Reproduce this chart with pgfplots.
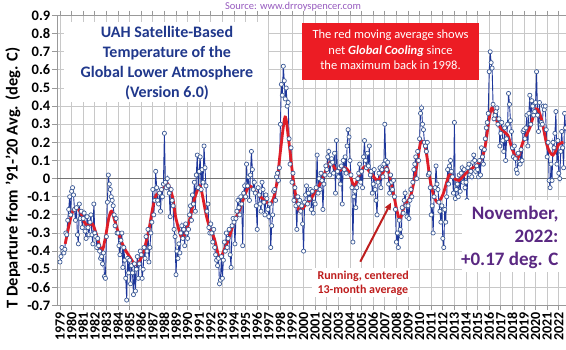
\documentclass[border=0pt]{standalone}
\usepackage{fontspec}
\setmainfont{Carlito}
\usepackage{pgfplots}
\pgfplotsset{compat=1.18}
\usepackage{pgfplotstable}
\usetikzlibrary{arrows.meta}
\definecolor{navy}{RGB}{32,56,140}
\definecolor{dblue}{RGB}{30,55,155}
\definecolor{mkblue}{RGB}{60,90,150}
\definecolor{redline}{RGB}{222,30,40}
\definecolor{boxred}{RGB}{236,28,36}
\definecolor{purp}{RGB}{90,40,130}
\definecolor{srcpurp}{RGB}{150,90,190}
\definecolor{dred}{RGB}{190,30,30}
\definecolor{gridgray}{RGB}{200,200,200}

\pgfplotstableread[row sep=\\]{
v\\
-0.46\\ -0.43\\ -0.38\\ -0.40\\ -0.41\\ -0.39\\ -0.30\\ -0.31\\ -0.23\\ -0.17\\ -0.10\\ -0.20\\
-0.07\\ -0.05\\ -0.09\\ -0.17\\ -0.23\\ -0.16\\ -0.31\\ -0.36\\ -0.14\\ -0.22\\ -0.18\\ -0.27\\
-0.22\\ -0.19\\ -0.29\\ -0.33\\ -0.21\\ -0.27\\ -0.31\\ -0.24\\ -0.20\\ -0.31\\ -0.36\\ -0.14\\
-0.30\\ -0.32\\ -0.38\\ -0.33\\ -0.37\\ -0.40\\ -0.44\\ -0.43\\ -0.47\\ -0.41\\ -0.54\\ -0.55\\
-0.32\\ -0.13\\ 0.02\\ -0.03\\ -0.06\\ -0.10\\ -0.12\\ -0.15\\ -0.20\\ -0.26\\ -0.22\\ -0.30\\
-0.30\\ -0.37\\ -0.42\\ -0.34\\ -0.30\\ -0.49\\ -0.38\\ -0.45\\ -0.55\\ -0.67\\ -0.44\\ -0.52\\
-0.45\\ -0.58\\ -0.48\\ -0.52\\ -0.64\\ -0.47\\ -0.62\\ -0.50\\ -0.43\\ -0.55\\ -0.47\\ -0.40\\
-0.42\\ -0.55\\ -0.50\\ -0.38\\ -0.44\\ -0.32\\ -0.40\\ -0.28\\ -0.46\\ -0.38\\ -0.30\\ -0.24\\
-0.06\\ -0.20\\ -0.12\\ 0.04\\ -0.05\\ -0.12\\ -0.14\\ -0.08\\ -0.18\\ -0.06\\ -0.10\\ -0.03\\
0.25\\ -0.02\\ -0.05\\ 0.00\\ -0.04\\ -0.08\\ -0.21\\ -0.06\\ -0.12\\ -0.15\\ -0.28\\ -0.32\\
-0.53\\ -0.40\\ -0.44\\ -0.36\\ -0.41\\ -0.30\\ -0.26\\ -0.33\\ -0.28\\ -0.37\\ -0.25\\ -0.30\\
-0.33\\ -0.28\\ -0.20\\ -0.15\\ -0.23\\ -0.09\\ -0.14\\ -0.02\\ -0.18\\ 0.02\\ 0.13\\ -0.05\\
0.04\\ 0.12\\ -0.06\\ 0.05\\ -0.02\\ 0.18\\ 0.06\\ -0.04\\ -0.18\\ -0.14\\ -0.27\\ -0.30\\
-0.25\\ -0.30\\ -0.35\\ -0.28\\ -0.38\\ -0.42\\ -0.45\\ -0.48\\ -0.44\\ -0.58\\ -0.56\\ -0.43\\
-0.55\\ -0.45\\ -0.35\\ -0.40\\ -0.30\\ -0.38\\ -0.33\\ -0.28\\ -0.42\\ -0.49\\ -0.26\\ -0.22\\
-0.24\\ -0.36\\ -0.22\\ -0.18\\ -0.12\\ -0.16\\ -0.20\\ -0.10\\ -0.14\\ -0.37\\ -0.08\\ -0.04\\
-0.10\\ 0.08\\ -0.04\\ 0.01\\ -0.12\\ 0.02\\ 0.15\\ 0.05\\ -0.06\\ -0.02\\ -0.08\\ -0.15\\
-0.28\\ -0.05\\ -0.09\\ -0.14\\ -0.18\\ -0.02\\ -0.06\\ -0.13\\ -0.20\\ -0.09\\ -0.11\\ -0.17\\
-0.21\\ -0.14\\ -0.38\\ -0.26\\ -0.20\\ -0.07\\ -0.06\\ -0.12\\ 0.01\\ 0.03\\ -0.01\\ 0.06\\
0.30\\ 0.52\\ 0.46\\ 0.62\\ 0.54\\ 0.44\\ 0.50\\ 0.40\\ 0.42\\ 0.22\\ 0.08\\ 0.17\\
-0.02\\ 0.03\\ -0.12\\ -0.05\\ -0.15\\ -0.28\\ -0.10\\ -0.14\\ -0.12\\ -0.18\\ -0.15\\ -0.25\\
-0.40\\ -0.13\\ -0.09\\ -0.04\\ -0.14\\ -0.08\\ -0.11\\ -0.06\\ -0.17\\ -0.07\\ -0.19\\ -0.13\\
-0.14\\ -0.05\\ 0.13\\ -0.08\\ 0.00\\ -0.06\\ 0.03\\ -0.01\\ -0.17\\ -0.03\\ 0.02\\ 0.07\\
0.05\\ 0.12\\ 0.15\\ 0.02\\ 0.08\\ 0.11\\ 0.09\\ 0.03\\ 0.14\\ -0.08\\ 0.21\\ 0.04\\
0.01\\ 0.06\\ -0.03\\ 0.07\\ -0.14\\ 0.10\\ 0.05\\ 0.12\\ 0.03\\ 0.18\\ 0.27\\ 0.23\\
0.10\\ 0.02\\ -0.05\\ -0.35\\ -0.10\\ -0.07\\ -0.16\\ -0.05\\ 0.00\\ 0.03\\ 0.08\\ -0.02\\
0.04\\ -0.05\\ 0.12\\ 0.21\\ 0.10\\ 0.06\\ 0.14\\ 0.07\\ 0.18\\ 0.02\\ 0.04\\ -0.08\\
-0.03\\ 0.05\\ -0.06\\ -0.12\\ -0.20\\ -0.02\\ 0.03\\ 0.06\\ -0.05\\ 0.05\\ 0.01\\ 0.08\\
0.30\\ 0.10\\ 0.05\\ 0.09\\ -0.03\\ -0.08\\ 0.02\\ -0.02\\ -0.06\\ -0.01\\ -0.10\\ -0.17\\
-0.35\\ -0.30\\ -0.38\\ -0.23\\ -0.28\\ -0.32\\ -0.16\\ -0.19\\ -0.12\\ -0.08\\ -0.15\\ -0.21\\
-0.15\\ -0.22\\ -0.12\\ -0.06\\ -0.10\\ -0.02\\ 0.05\\ 0.08\\ 0.12\\ 0.00\\ 0.15\\ 0.10\\
0.22\\ 0.36\\ 0.39\\ 0.30\\ 0.27\\ 0.20\\ 0.18\\ 0.15\\ 0.20\\ 0.02\\ 0.03\\ -0.05\\
-0.20\\ -0.15\\ -0.30\\ -0.10\\ -0.05\\ 0.07\\ -0.03\\ -0.06\\ -0.13\\ -0.18\\ -0.24\\ -0.15\\
-0.33\\ -0.38\\ -0.17\\ -0.24\\ -0.10\\ 0.05\\ -0.03\\ 0.07\\ 0.10\\ 0.04\\ 0.01\\ -0.08\\
0.31\\ -0.11\\ -0.06\\ -0.03\\ -0.10\\ 0.02\\ -0.07\\ 0.03\\ 0.06\\ -0.02\\ 0.05\\ -0.05\\
-0.02\\ -0.12\\ 0.06\\ 0.08\\ 0.02\\ 0.04\\ 0.01\\ 0.09\\ 0.13\\ 0.10\\ 0.04\\ 0.07\\
0.05\\ 0.01\\ 0.10\\ 0.02\\ 0.17\\ 0.12\\ 0.08\\ 0.16\\ 0.22\\ 0.28\\ 0.31\\ 0.36\\
0.59\\ 0.70\\ 0.64\\ 0.61\\ 0.41\\ 0.33\\ 0.35\\ 0.37\\ 0.39\\ 0.30\\ 0.33\\ 0.18\\
0.25\\ 0.31\\ 0.21\\ 0.15\\ 0.28\\ 0.10\\ 0.22\\ 0.30\\ 0.47\\ 0.41\\ 0.32\\ 0.26\\
0.17\\ 0.12\\ 0.18\\ 0.11\\ 0.05\\ 0.03\\ 0.14\\ 0.09\\ 0.08\\ 0.16\\ 0.10\\ 0.26\\
0.27\\ 0.22\\ 0.28\\ 0.35\\ 0.18\\ 0.36\\ 0.46\\ 0.30\\ 0.43\\ 0.40\\ 0.35\\ 0.37\\
0.42\\ 0.59\\ 0.35\\ 0.26\\ 0.42\\ 0.30\\ 0.31\\ 0.30\\ 0.40\\ 0.38\\ 0.40\\ 0.27\\
0.12\\ 0.20\\ -0.01\\ -0.05\\ 0.08\\ -0.01\\ 0.20\\ 0.17\\ 0.25\\ 0.37\\ 0.08\\ 0.21\\
0.03\\ 0.00\\ 0.15\\ 0.26\\ 0.17\\ 0.06\\ 0.36\\ 0.28\\ 0.24\\ 0.32\\ 0.17\\
}\uah

\pgfplotstableread[row sep=\\]{
t v\\
1979.45 -0.36\\ 1979.8 -0.25\\ 1980.1 -0.18\\ 1980.4 -0.16\\ 1980.8 -0.19\\
1981.1 -0.24\\ 1981.4 -0.26\\ 1981.8 -0.25\\ 1982.2 -0.32\\ 1982.6 -0.40\\
1982.9 -0.33\\ 1983.2 -0.22\\ 1983.45 -0.18\\ 1983.8 -0.25\\ 1984.2 -0.33\\
1984.6 -0.39\\ 1985.0 -0.43\\ 1985.5 -0.475\\ 1985.9 -0.45\\ 1986.3 -0.38\\
1986.7 -0.27\\ 1987.0 -0.16\\ 1987.3 -0.09\\ 1987.7 -0.07\\ 1988.0 -0.045\\
1988.3 -0.03\\ 1988.7 -0.10\\ 1989.0 -0.22\\ 1989.5 -0.33\\ 1989.8 -0.30\\
1990.2 -0.22\\ 1990.6 -0.11\\ 1991.05 -0.04\\ 1991.3 -0.10\\ 1991.6 -0.20\\
1991.9 -0.27\\ 1992.3 -0.33\\ 1992.75 -0.44\\ 1993.1 -0.40\\ 1993.5 -0.34\\
1994.0 -0.24\\ 1994.5 -0.17\\ 1995.0 -0.08\\ 1995.35 -0.04\\ 1995.8 -0.07\\
1996.3 -0.10\\ 1996.8 -0.13\\ 1997.1 -0.14\\ 1997.4 -0.11\\ 1997.7 -0.02\\
1998.0 0.15\\ 1998.4 0.34\\ 1998.7 0.22\\ 1999.1 0.00\\ 1999.4 -0.12\\
1999.65 -0.18\\ 2000.1 -0.15\\ 2000.65 -0.11\\ 2001.0 -0.07\\ 2001.5 -0.02\\
2002.0 0.06\\ 2002.35 0.09\\ 2002.9 0.04\\ 2003.5 0.06\\ 2003.9 0.04\\
2004.35 -0.04\\ 2004.8 0.02\\ 2005.25 0.065\\ 2005.8 0.03\\ 2006.4 -0.01\\
2006.9 0.04\\ 2007.25 0.055\\ 2007.7 -0.07\\ 2008.25 -0.22\\ 2008.7 -0.15\\
2009.25 -0.09\\ 2009.7 0.05\\ 2010.1 0.20\\ 2010.5 0.17\\ 2011.0 -0.04\\
2011.5 -0.13\\ 2012.0 -0.09\\ 2012.55 0.02\\ 2013.0 0.00\\ 2013.4 -0.01\\
2014.0 0.03\\ 2014.6 0.06\\ 2015.15 0.09\\ 2015.6 0.16\\ 2016.0 0.33\\
2016.25 0.39\\ 2016.7 0.31\\ 2017.15 0.265\\ 2017.6 0.24\\ 2018.0 0.16\\
2018.45 0.11\\ 2018.9 0.20\\ 2019.5 0.28\\ 2020.05 0.385\\ 2020.5 0.33\\
2021.0 0.18\\ 2021.5 0.13\\ 2022.0 0.19\\ 2022.4 0.20\\
}\runmean

\begin{document}
\begin{tikzpicture}
\useasboundingbox (-57pt,-44.5pt) rectangle (509pt,305.5pt);
\begin{axis}[
  at={(0,0)}, anchor=south west,
  scale only axis, width=509pt, height=290pt,
  xmin=1978.741, xmax=2022.62, ymin=-0.7, ymax=0.9,
  xtick={1979,1980,...,2022},
  ytick={-0.7,-0.6,-0.5,-0.4,-0.3,-0.2,-0.1,0,0.1,0.2,0.3,0.4,0.5,0.6,0.7,0.8,0.9},
  yticklabels={-0.7,-0.6,-0.5,-0.4,-0.3,-0.2,-0.1,0,0.1,0.2,0.3,0.4,0.5,0.6,0.7,0.8,0.9},
  /pgf/number format/1000 sep={},
  /pgf/number format/assume math mode=true,
  grid=major,
  grid style={draw=gridgray, line width=0.8pt},
  axis line style={draw=gray!80, line width=0.8pt},
  tick align=outside, major tick length=5pt,
  tick style={draw=gray!80, line width=0.8pt},
  xticklabel style={rotate=90, anchor=east, inner sep=1.5pt, font=\bfseries\fontsize{14}{14}\selectfont},
  yticklabel style={inner sep=1.5pt, font=\bfseries\fontsize{14.5}{14.5}\selectfont},
  ylabel={T Departure from '91-'20 Avg. (deg. C)},
  ylabel style={at={(axis description cs:-0.0864,0.44)}, anchor=center, font=\bfseries\fontsize{16.5}{16.5}\selectfont},
  clip mode=global,
]
\draw[draw=gray!90!black, line width=1.4pt] (axis cs:1978.741,0) -- (axis cs:2022.62,0);
\addplot[dblue, line width=0.9pt, mark=*, mark size=2.1pt,
  mark options={fill=white, draw=mkblue, line width=0.7pt}]
  table[x expr={1979+\coordindex/12}, y=v] {\uah};
\addplot[redline, line width=2.8pt, smooth, no markers] table[x=t, y=v] {\runmean};
\end{axis}
% white backgrounds for annotations
\fill[white] (7pt,283.5pt) rectangle (211pt,203.5pt);
\node[align=center, text=navy, font=\bfseries\fontsize{16}{20}\selectfont] at (110pt,242.5pt)
  {UAH Satellite-Based\\Temperature of the\\Global Lower Atmosphere\\(Version 6.0)};
\fill[boxred] (245pt,282.5pt) rectangle (422pt,225.5pt);
\node[align=center, text=white, font=\fontsize{12.5}{15.5}\selectfont] at (333.5pt,255.5pt)
  {The red moving average shows\\net \textbf{\textit{Global Cooling}} since\\the maximum back in 1998.};
\node[text=srcpurp, font=\fontsize{10.5}{12}\selectfont] at (236pt,298.5pt) {Source: www.drroyspencer.com};
\fill[white] (405pt,105.5pt) rectangle (509pt,33.5pt);
\node[align=right, anchor=east, text=purp, font=\bfseries\fontsize{19}{23}\selectfont] at (505pt,68.5pt)
  {November,\\2022:\\+0.17 deg. C};
\fill[white] (255pt,37.5pt) rectangle (353pt,8.5pt);
\node[align=left, anchor=west, text=dred, font=\bfseries\fontsize{12}{14}\selectfont] at (257pt,22.5pt)
  {Running, centered\\13-month average};
\draw[dred, line width=2pt, -{Triangle[length=7pt,width=6pt]}] (303.3pt,43.8pt) -- (334pt,102.8pt);
\end{tikzpicture}
\end{document}
